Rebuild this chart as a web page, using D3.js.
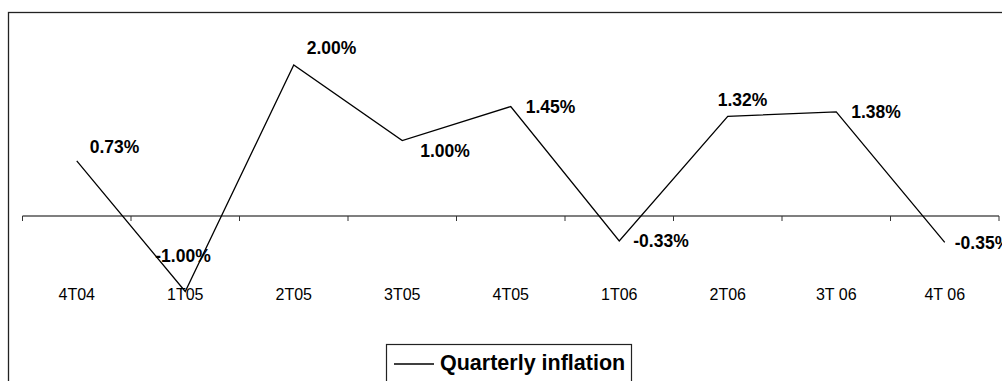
<!DOCTYPE html>
<html>
<head>
<meta charset="utf-8">
<script src="https://cdn.jsdelivr.net/npm/d3@7"></script>
<style>
  html, body { margin: 0; padding: 0; background: #fff; }
  svg { display: block; }
</style>
</head>
<body>
<svg id="chart" width="1002" height="381"></svg>
<script>
// ---- data ----
const categories = ["4T04", "1T05", "2T05", "3T05", "4T05", "1T06", "2T06", "3T 06", "4T 06"];
const inflation = [0.73, -1.00, 2.00, 1.00, 1.45, -0.33, 1.32, 1.38, -0.35];
const seriesName = "Quarterly inflation";

// ---- drawing ----
const svg = d3.select("#chart");
const font = "'Liberation Sans', Arial, Helvetica, sans-serif";
const fmt = d3.formatLocale({decimal: ".", thousands: ",", grouping: [3], currency: ["", ""], minus: "-"}).format(".2f");

// outer frame
svg.append("rect")
  .attr("x", 8.5).attr("y", 12.5)
  .attr("width", 1100).attr("height", 500)
  .attr("fill", "none").attr("stroke", "#222").attr("stroke-width", 1.3);

const x = d3.scaleBand().domain(categories).range([22.5, 999]).paddingInner(0).paddingOuter(0);
const y = d3.scaleLinear().domain([-1, 2]).range([291.5, 65]);

// category axis at zero
const axisG = svg.append("g").attr("transform", `translate(0,${y(0)})`);
axisG.append("line")
  .attr("x1", x.range()[0]).attr("x2", x.range()[1])
  .attr("stroke", "#000").attr("stroke-width", 1.2);
const tickPos = categories.map(c => x(c)).concat([x.range()[1]]);
axisG.selectAll("line.tick").data(tickPos).enter().append("line")
  .attr("class", "tick")
  .attr("x1", d => d).attr("x2", d => d)
  .attr("y1", 0).attr("y2", 5)
  .attr("stroke", "#333").attr("stroke-width", 1);

// category labels
svg.append("g").selectAll("text").data(categories).enter().append("text")
  .attr("x", d => x(d) + x.bandwidth() / 2)
  .attr("y", 300)
  .attr("text-anchor", "middle")
  .attr("font-family", font)
  .attr("font-size", "16px")
  .attr("fill", "#000")
  .text(d => d);

// line
const line = d3.line()
  .x((d, i) => x(categories[i]) + x.bandwidth() / 2)
  .y(d => y(d));
svg.append("path")
  .datum(inflation)
  .attr("d", line)
  .attr("fill", "none")
  .attr("stroke", "#000")
  .attr("stroke-width", 1.3);

// data labels (placement offsets relative to point: dx, baseline dy)
const labelOffsets = [[13, -8], [-30, -29.5], [13, -11], [18, 16.5], [15, 6.5], [14, 6.5], [-10, -10], [15, 6.5], [10, 6.5]];
svg.append("g").selectAll("text").data(inflation).enter().append("text")
  .attr("x", (d, i) => x(categories[i]) + x.bandwidth() / 2 + labelOffsets[i][0])
  .attr("y", (d, i) => y(d) + labelOffsets[i][1])
  .attr("font-family", font)
  .attr("font-size", "17.5px")
  .attr("font-weight", "bold")
  .attr("fill", "#000")
  .text(d => fmt(d) + "%");

// legend
const lg = svg.append("g");
lg.append("rect")
  .attr("x", 386.5).attr("y", 344.5)
  .attr("width", 245).attr("height", 60)
  .attr("fill", "#fff").attr("stroke", "#222").attr("stroke-width", 1.2);
lg.append("line")
  .attr("x1", 394).attr("x2", 434).attr("y1", 364).attr("y2", 364)
  .attr("stroke", "#000").attr("stroke-width", 1.3);
lg.append("text")
  .attr("x", 440).attr("y", 370)
  .attr("font-family", font)
  .attr("font-size", "21.5px")
  .attr("font-weight", "bold")
  .attr("fill", "#000")
  .text(seriesName);
</script>
</body>
</html>
